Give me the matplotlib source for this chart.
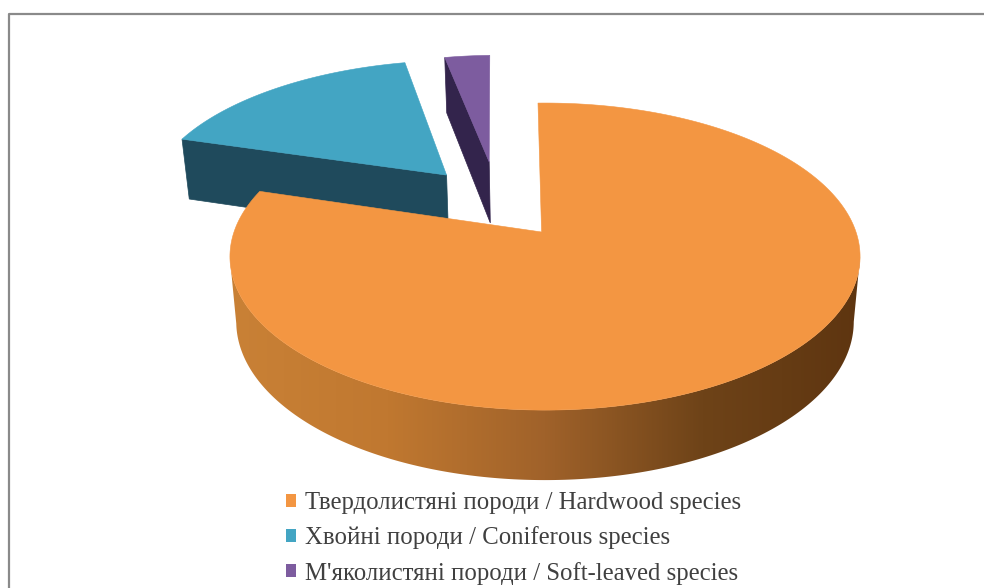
import numpy as np
import matplotlib
matplotlib.use("Agg")
import matplotlib.pyplot as plt
from matplotlib.patches import Polygon, Patch
from matplotlib.colors import LinearSegmentedColormap

categories = ["Твердолистяні породи / Hardwood species",
              "Хвойні породи / Coniferous species",
              "М'яколистяні породи / Soft-leaved species"]
values = [80.0, 17.0, 3.0]
top_colors = ["#F39642", "#43A5C3", "#7D5C9F"]
side_colors = ["#8A5220", "#1F4A5C", "#33244C"]
explode = [(0.0, 0.0), (-0.337, 0.405), (-0.194, 0.506)]
apex_shift = [-0.011, 0.0, 0.0]
radii = [1.0, 1.0, 0.95]

CX, CY, A, B, K = 545.0, 232.0, 311.0, 149.6, 0.16
START = -1.5

side_cmap = LinearSegmentedColormap.from_list(
    "side", [(0.0, "#C98136"), (0.25, "#C07830"), (0.5, "#A0622A"),
             (0.75, "#6E4318"), (1.0, "#5E3510")])


def project(u, v, z=0.0):
    s = 1.0 + K * v
    x = A * u / s
    y = B * v / s
    if z:
        return CX + x * 0.98, CY - y + (64 - 6 * v)
    return CX + x, CY - y


fig = plt.figure(figsize=(9.84, 5.88), dpi=100, facecolor="white")
ax = fig.add_axes([0, 0, 1, 1])
ax.axis("off")

# border of the chart area: left and top only reach the picture's edges
ax.plot([8.5, 8.5, 984], [588, 13.5, 13.5], color="#8A8A8A", lw=1.6, zorder=1)

edges = START + np.cumsum([0] + values) * 3.6
order = [1, 2, 0]
for rank, i in enumerate(order):
    a0, a1 = np.radians(edges[i]), np.radians(edges[i + 1])
    t = np.linspace(a0, a1, 361)
    ox, oy = explode[i]
    u = ox + radii[i] * np.sin(t)
    v = oy + radii[i] * np.cos(t)
    base = 2 + rank * 2
    if i == 0:
        # outer wall, filled by a horizontal gradient clipped to its outline
        keep = v <= -0.16
        xt, yt = project(u[keep], v[keep])
        xb, yb = project(u[keep], v[keep], 1)
        wall = Polygon(list(zip(xt, yt)) + list(zip(xb[::-1], yb[::-1])),
                       closed=True, fc="none", ec="none", transform=ax.transData)
        ax.add_patch(wall)
        grad = np.linspace(0, 1, 512).reshape(1, -1)
        im = ax.imshow(grad, cmap=side_cmap, extent=(230, 861, 500, 150),
                       aspect="auto", zorder=base, interpolation="bilinear")
        im.set_clip_path(wall)
    else:
        # front cut face
        pts_u = np.array([ox + radii[i] * np.sin(a0), ox])
        pts_v = np.array([oy + radii[i] * np.cos(a0), oy])
        xt, yt = project(pts_u, pts_v)
        xb, yb = project(pts_u, pts_v, 1)
        ax.add_patch(Polygon(list(zip(xt, yt)) + list(zip(xb[::-1], yb[::-1])),
                             closed=True, fc=side_colors[i], ec=side_colors[i], lw=0.5, zorder=base))
    xs, ys = project(np.r_[ox + apex_shift[i], u], np.r_[oy, v])
    ax.add_patch(Polygon(list(zip(xs, ys)), closed=True, fc=top_colors[i],
                         ec=top_colors[i], lw=0.4, zorder=base + 1))

ax.set_xlim(0, 984)
ax.set_ylim(588, 0)

handles = [Patch(fc=c, ec="none") for c in top_colors]
ax.legend(handles, categories, loc="upper left", bbox_to_anchor=(286 / 984, 1 - 492 / 588),
          frameon=False, prop={"family": "Liberation Serif", "size": 17.8}, labelcolor="#404040",
          handlelength=0.42, handleheight=0.42, handletextpad=0.36, labelspacing=0.5,
          borderpad=0, borderaxespad=0)

fig.savefig("out.png", dpi=100)
